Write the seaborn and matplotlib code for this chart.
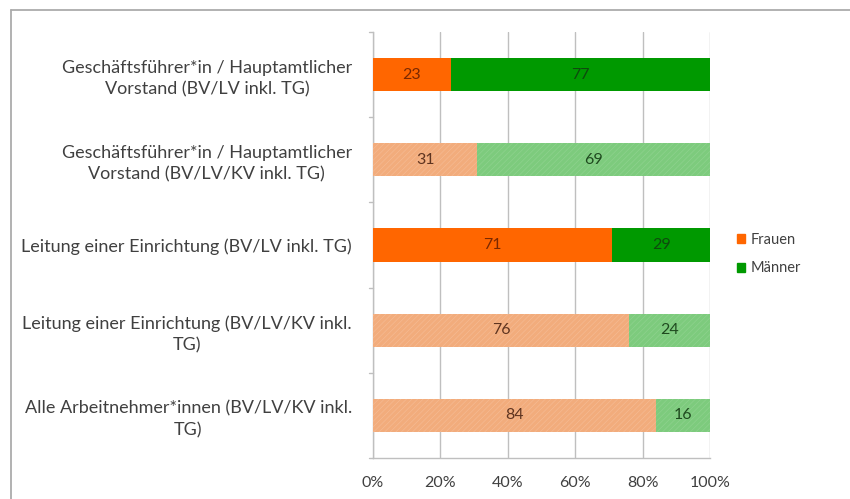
import matplotlib
matplotlib.use("Agg")
import matplotlib.pyplot as plt
import matplotlib.transforms as mtrans
import seaborn as sns
import pandas as pd
from matplotlib.patches import Rectangle
from matplotlib.lines import Line2D

categories = [
    "Geschäftsführer*in / Hauptamtlicher\nVorstand (BV/LV inkl. TG)",
    "Geschäftsführer*in / Hauptamtlicher\nVorstand (BV/LV/KV inkl. TG)",
    "Leitung einer Einrichtung (BV/LV inkl. TG)",
    "Leitung einer Einrichtung (BV/LV/KV inkl.\nTG)",
    "Alle Arbeitnehmer*innen (BV/LV/KV inkl.\nTG)",
]
frauen = [23, 31, 71, 76, 84]
maenner = [77, 69, 29, 24, 16]
light_rows = [False, True, False, True, True]
x_ticks = [0, 20, 40, 60, 80, 100]
x_tick_labels = ["0%", "20%", "40%", "60%", "80%", "100%"]

orange_solid, orange_light = "#FF6600", "#F2AC7C"
green_solid, green_light = "#009900", "#7DCB7D"
text_col = "#404040"

df = pd.DataFrame({"cat": categories, "frauen": frauen, "maenner": maenner})
df["total"] = df["frauen"] + df["maenner"]

sns.set_style("white")
plt.rcParams["font.family"] = ["Lato", "DejaVu Sans"]
plt.rcParams["hatch.linewidth"] = 0.5

fig = plt.figure(figsize=(8.5, 4.99), dpi=100)
ax = fig.add_axes([373 / 850, 1 - 458 / 499, 337 / 850, 426 / 499])

green_pal = [green_light if l else green_solid for l in light_rows]
orange_pal = [orange_light if l else orange_solid for l in light_rows]

sns.barplot(data=df, x="total", y="cat", hue="cat", palette=green_pal,
            legend=False, width=0.39, ax=ax, saturation=1, zorder=2)
sns.barplot(data=df, x="frauen", y="cat", hue="cat", palette=orange_pal,
            legend=False, width=0.39, ax=ax, saturation=1, zorder=3)

n = len(categories)
green_bars = ax.patches[:n]
orange_bars = ax.patches[n:2 * n]

# faint fine texture on the light rows
for i, light in enumerate(light_rows):
    for bar, hc in ((green_bars[i], "#8ED28E"), (orange_bars[i], "#F5BA92")):
        bar.set_linewidth(0)
        if light:
            bar.set_hatch("//////")
            bar.set_edgecolor(hc)

# value labels centred in each segment
for i in range(n):
    ob = orange_bars[i]
    y = ob.get_y() + ob.get_height() / 2
    ocol = "#7A2800" if not light_rows[i] else "#5E3420"
    gcol = "#0E4A0E" if not light_rows[i] else "#1F4A1F"
    ax.text(frauen[i] / 2, y, str(frauen[i]), ha="center", va="center",
            fontsize=11.5, color=ocol, zorder=5)
    ax.text(frauen[i] + maenner[i] / 2, y, str(maenner[i]), ha="center",
            va="center", fontsize=11.5, color=gcol, zorder=5)

ax.set_xlim(0, 100)
ax.set_ylim(n - 0.5, -0.5)
ax.set_xticks(x_ticks)
ax.set_xticklabels(x_tick_labels)
ax.set_xlabel("")
ax.set_ylabel("")
ax.xaxis.grid(True, color="#BFBFBF", linewidth=1)
ax.set_axisbelow(True)
for s in ["top", "right"]:
    ax.spines[s].set_visible(False)
for s in ["left", "bottom"]:
    ax.spines[s].set_color("#BFBFBF")
    ax.spines[s].set_linewidth(1)

ax.set_yticks(range(n))
ax.set_yticklabels(categories, ha="center", multialignment="center",
                   linespacing=1.4)
ax.tick_params(axis="y", length=0, pad=0, labelsize=13, labelcolor=text_col)
# shift centred tick labels so their right side sits near the axis
fig.canvas.draw()
renderer = fig.canvas.get_renderer()
for lab in ax.get_yticklabels():
    w = lab.get_window_extent(renderer).width
    lab.set_transform(lab.get_transform() + mtrans.ScaledTranslation(
        -(w / 2 + 21) / 100, 0, fig.dpi_scale_trans))

ax.tick_params(axis="x", length=5, color="#BFBFBF", labelsize=11.5,
               labelcolor=text_col, pad=8, direction="out")

# small category separator ticks on the vertical axis
for b in [k - 0.5 for k in range(n + 1)]:
    ax.add_line(Line2D([-0.012, 0], [b, b], transform=ax.get_yaxis_transform(),
                       color="#BFBFBF", linewidth=1, clip_on=False))

# legend
handles = [Rectangle((0, 0), 1, 1, color=orange_solid),
           Rectangle((0, 0), 1, 1, color=green_solid)]
fig.legend(handles, ["Frauen", "Männer"], loc="center left",
           bbox_to_anchor=(724 / 850, 1 - 254 / 499), frameon=False,
           fontsize=10.5, handlelength=0.55, handleheight=0.55,
           handletextpad=0.4, labelspacing=1.0, labelcolor=text_col)

# chart frame
fig.add_artist(Line2D([11 / 850, 11 / 850], [0, 1 - 10 / 499],
                      transform=fig.transFigure, color="#ABABAB", linewidth=1.3))
fig.add_artist(Line2D([11 / 850, 1], [1 - 10 / 499, 1 - 10 / 499],
                      transform=fig.transFigure, color="#ABABAB", linewidth=1.3))

fig.savefig("out.png", dpi=100)
